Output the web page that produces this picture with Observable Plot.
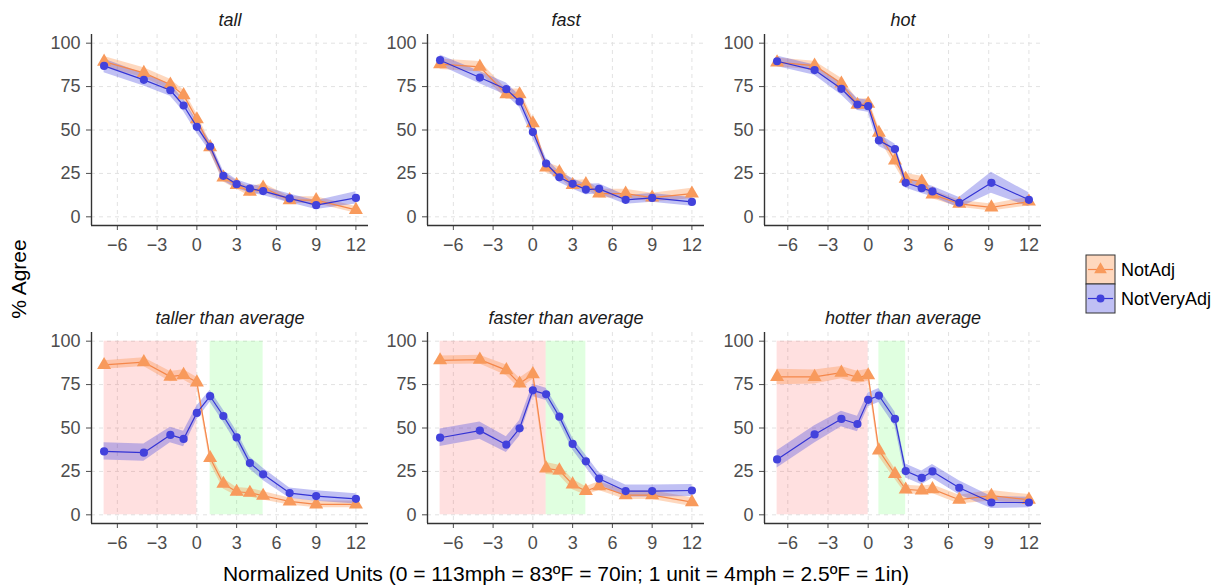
<!DOCTYPE html>
<html><head><meta charset="utf-8">
<script src="https://cdn.jsdelivr.net/npm/d3@7"></script>
<script src="https://cdn.jsdelivr.net/npm/@observablehq/plot@0.6"></script>
<style>
body{margin:0;background:#fff;font-family:"Liberation Sans",Arial,sans-serif;}
#root{position:relative;width:1222px;height:588px;overflow:hidden;background:#fff;}
.panel{position:absolute;}
.lab{position:absolute;color:#000;white-space:nowrap;}
</style></head><body><div id="root"></div>
<script>
// ---------- data ----------
const panelTitles = ["tall", "fast", "hot", "taller than average", "faster than average", "hotter than average"];
const seriesNames = ["NotAdj", "NotVeryAdj"];
const xStd = [-7, -4, -2, -1, 0, 1, 2, 3, 4, 5, 7, 9, 12];
const xHot = [-6.8, -4, -2, -0.8, 0, 0.8, 2, 2.8, 4, 4.8, 6.8, 9.2, 12];
const xTicks = [-6, -3, 0, 3, 6, 9, 12];
const xTickLabels = ["\u22126", "\u22123", "0", "3", "6", "9", "12"];
const yTicks = [0, 25, 50, 75, 100];
const yTickLabels = ["0", "25", "50", "75", "100"];

// tall
const tallNotAdj       = [89.4, 82.9, 76.2, 70.1, 56.2, 40.1, 22.6, 18.4, 14.4, 16.9, 9.6, 9.6, 4.0];
const tallNotAdjSE     = [3.0, 3.0, 3.0, 3.0, 3.0, 3.0, 2.5, 2.5, 2.5, 2.5, 2.0, 2.0, 2.0];
const tallNotVeryAdj   = [86.9, 78.9, 72.9, 64.1, 51.8, 40.5, 23.6, 18.8, 16.3, 14.8, 10.6, 6.7, 10.9];
const tallNotVeryAdjSE = [4.0, 3.5, 3.5, 3.5, 3.5, 3.0, 3.0, 2.5, 2.5, 2.5, 2.5, 2.5, 3.5];
// fast
const fastNotAdj       = [87.9, 86.4, 70.6, 70.6, 53.9, 28.4, 25.7, 18.4, 18.8, 13.4, 13.4, 11.1, 13.4];
const fastNotAdjSE     = [3.0, 3.0, 3.0, 3.0, 3.0, 3.0, 3.0, 2.5, 2.5, 2.5, 2.5, 2.5, 3.0];
const fastNotVeryAdj   = [90.2, 80.2, 73.5, 66.4, 48.8, 30.7, 22.8, 19.0, 15.7, 16.1, 9.8, 10.9, 8.6];
const fastNotVeryAdjSE = [3.0, 3.5, 3.5, 3.5, 3.5, 3.0, 3.0, 3.0, 3.0, 3.0, 2.5, 2.5, 2.5];
// hot
const hotNotAdj        = [88.9, 87.1, 76.8, 64.5, 65.1, 48.4, 32.4, 21.9, 20.3, 12.9, 7.5, 5.4, 8.8];
const hotNotAdjSE      = [2.5, 2.5, 3.0, 3.0, 3.0, 3.0, 3.0, 3.0, 3.0, 2.5, 2.0, 2.0, 2.5];
const hotNotVeryAdj    = [89.6, 84.5, 73.7, 64.7, 63.7, 44.0, 39.0, 19.6, 16.5, 14.6, 8.1, 19.6, 9.8];
const hotNotVeryAdjSE  = [3.0, 3.0, 3.5, 3.5, 3.5, 3.5, 3.0, 3.0, 3.0, 3.0, 3.0, 6.0, 4.0];
// taller than average
const tallerNotAdj       = [86.3, 87.9, 79.6, 80.6, 76.3, 32.7, 17.9, 13.3, 12.7, 11.0, 7.7, 6.0, 6.0];
const tallerNotAdjSE     = [2.5, 2.5, 3.0, 3.0, 3.0, 3.0, 3.0, 2.5, 2.5, 2.5, 2.0, 2.0, 2.0];
const tallerNotVeryAdj   = [36.5, 35.8, 46.0, 43.7, 58.7, 68.3, 56.9, 44.6, 29.8, 23.3, 12.5, 10.8, 9.2];
const tallerNotVeryAdjSE = [5.0, 5.0, 4.5, 4.5, 4.0, 3.5, 3.5, 3.5, 3.5, 3.5, 3.0, 3.0, 3.0];
// faster than average
const fasterNotAdj       = [89.0, 89.4, 83.3, 75.6, 81.0, 26.7, 25.6, 17.5, 13.7, 16.5, 11.3, 11.3, 7.3];
const fasterNotAdjSE     = [2.5, 2.5, 3.0, 3.0, 3.0, 3.5, 3.0, 3.0, 2.5, 2.5, 2.5, 2.5, 2.5];
const fasterNotVeryAdj   = [44.4, 48.5, 40.4, 49.8, 71.7, 69.4, 56.5, 40.8, 30.8, 20.8, 13.7, 13.7, 14.0];
const fasterNotVeryAdjSE = [5.0, 5.0, 4.5, 4.5, 3.5, 3.5, 3.5, 3.5, 3.5, 3.5, 3.5, 3.5, 3.5];
// hotter than average
const hotterNotAdj       = [79.4, 79.4, 81.9, 79.2, 80.4, 37.1, 23.5, 14.6, 14.0, 14.8, 8.7, 11.0, 8.7];
const hotterNotAdjSE     = [4.5, 4.0, 3.5, 3.5, 3.5, 3.5, 3.0, 2.5, 2.5, 2.5, 2.5, 3.0, 3.0];
const hotterNotVeryAdj   = [31.9, 46.3, 55.2, 52.3, 66.2, 68.7, 55.2, 25.2, 21.3, 25.0, 15.6, 7.1, 7.1];
const hotterNotVeryAdjSE = [5.0, 5.0, 4.5, 4.5, 4.0, 4.0, 4.0, 4.0, 4.0, 4.0, 4.0, 3.5, 3.0];

// shaded regions for bottom row (x ranges)
const pinkRegions  = [null, null, null, [-7, 0], [-7, 1], [-6.8, 0]];
const greenRegions = [null, null, null, [1, 5], [1, 4], [0.8, 2.8]];

const xAxisTitle = "Normalized Units (0 = 113mph = 83\u00baF = 70in; 1 unit = 4mph = 2.5\u00baF = 1in)";
const yAxisTitle = "% Agree";

// ---------- drawing ----------
const orangeLine = "#f5874a", orangePt = "#f89a5c", orangeFill = "#fb8f45";
const blueLine = "#3434d4", bluePt = "#4242dc", blueFill = "#4a4ae0";

const panels = [
  [xStd, tallNotAdj, tallNotAdjSE, tallNotVeryAdj, tallNotVeryAdjSE],
  [xStd, fastNotAdj, fastNotAdjSE, fastNotVeryAdj, fastNotVeryAdjSE],
  [xHot, hotNotAdj, hotNotAdjSE, hotNotVeryAdj, hotNotVeryAdjSE],
  [xStd, tallerNotAdj, tallerNotAdjSE, tallerNotVeryAdj, tallerNotVeryAdjSE],
  [xStd, fasterNotAdj, fasterNotAdjSE, fasterNotVeryAdj, fasterNotVeryAdjSE],
  [xHot, hotterNotAdj, hotterNotAdjSE, hotterNotVeryAdj, hotterNotVeryAdjSE]
];

const root = document.getElementById("root");
const frameLefts = [91.4, 427.4, 763.7];
const frameTops = [33.6, 332.3];
const frameW = 277, frameH = 191;
const mL = 55, mR = 10, mT = 32, mB = 40;

function rowsOf(x, v, se) {
  return x.map((xx, i) => ({x: xx, y: v[i], lo: v[i] - se[i], hi: v[i] + se[i]}));
}
const fmtX = d => xTickLabels[xTicks.indexOf(d)];
const fmtY = d => yTickLabels[yTicks.indexOf(d)];

panels.forEach((p, i) => {
  const [xs, na, naSE, nva, nvaSE] = p;
  const ext = d3.extent(xs);
  const pad = (ext[1] - ext[0]) * 0.05;
  const dom = [ext[0] - pad, ext[1] + pad];
  const naRows = rowsOf(xs, na, naSE);
  const nvaRows = rowsOf(xs, nva, nvaSE);
  const marks = [
    Plot.ruleX(xTicks, {stroke: "#e2e2e2", strokeDasharray: "4,4", strokeWidth: 1}),
    Plot.ruleY(yTicks, {stroke: "#e2e2e2", strokeDasharray: "4,4", strokeWidth: 1})
  ];
  if (pinkRegions[i]) marks.push(Plot.rect([pinkRegions[i]], {x1: d => d[0], x2: d => d[1], y1: d => 0, y2: d => 100, fill: "#ff0000", fillOpacity: 0.12}));
  if (greenRegions[i]) marks.push(Plot.rect([greenRegions[i]], {x1: d => d[0], x2: d => d[1], y1: d => 0, y2: d => 100, fill: "#00ff00", fillOpacity: 0.12}));
  marks.push(
    Plot.areaY(naRows, {x: "x", y1: "lo", y2: "hi", fill: orangeFill, fillOpacity: 0.35}),
    Plot.areaY(nvaRows, {x: "x", y1: "lo", y2: "hi", fill: blueFill, fillOpacity: 0.35}),
    Plot.line(naRows, {x: "x", y: "y", stroke: orangeLine, strokeWidth: 1.2}),
    Plot.dot(naRows, {x: "x", y: "y", symbol: "triangle", r: 5.2, fill: orangePt}),
    Plot.line(nvaRows, {x: "x", y: "y", stroke: blueLine, strokeWidth: 1.2}),
    Plot.dot(nvaRows, {x: "x", y: "y", r: 4.1, fill: bluePt}),
    Plot.ruleX([dom[0]], {stroke: "#333", strokeWidth: 1.4}),
    Plot.ruleY([-5], {stroke: "#333", strokeWidth: 1.4}),
    Plot.text([panelTitles[i]], {text: d => d, frameAnchor: "top", dy: -21, fontSize: 18, fontStyle: "italic", fill: "#1a1a1a"})
  );
  const chart = Plot.plot({
    width: mL + frameW + mR,
    height: mT + frameH + mB,
    marginLeft: mL, marginRight: mR, marginTop: mT, marginBottom: mB,
    style: {fontSize: "18px", fontFamily: "Liberation Sans, Arial, sans-serif", color: "#4d4d4d", background: "transparent", overflow: "visible"},
    x: {domain: dom, ticks: xTicks, tickFormat: fmtX, tickSize: 5, tickPadding: 8, label: null},
    y: {domain: [-5, 105], ticks: yTicks, tickFormat: fmtY, tickSize: 5, tickPadding: 6, label: null},
    marks
  });
  const div = document.createElement("div");
  div.className = "panel";
  div.style.left = (frameLefts[i % 3] - mL) + "px";
  div.style.top = (frameTops[Math.floor(i / 3)] - mT) + "px";
  div.appendChild(chart);
  root.appendChild(div);
});

// axis titles
const xt = document.createElement("div");
xt.className = "lab";
xt.textContent = xAxisTitle;
xt.style.fontSize = "21px";
xt.style.left = "566px"; xt.style.top = "574px";
xt.style.transform = "translate(-50%,-50%)";
root.appendChild(xt);

const yt = document.createElement("div");
yt.className = "lab";
yt.textContent = yAxisTitle;
yt.style.fontSize = "21px";
yt.style.left = "18.5px"; yt.style.top = "279px";
yt.style.transform = "translate(-50%,-50%) rotate(-90deg)";
root.appendChild(yt);

// legend
const legDiv = document.createElement("div");
legDiv.className = "panel";
legDiv.style.left = "1080px"; legDiv.style.top = "250px";
root.appendChild(legDiv);
const leg = d3.select(legDiv).append("svg").attr("width", 142).attr("height", 70)
  .style("font-family", "Liberation Sans, Arial, sans-serif");
const legItems = [
  {name: seriesNames[0], fill: orangeFill, line: orangeLine, pt: orangePt, sym: d3.symbolTriangle, size: 70},
  {name: seriesNames[1], fill: blueFill, line: blueLine, pt: bluePt, sym: d3.symbolCircle, size: 50}
];
legItems.forEach((it, k) => {
  const y0 = 5 + k * 29;
  const g = leg.append("g");
  g.append("rect").attr("x", 6).attr("y", y0).attr("width", 29).attr("height", 29)
    .attr("fill", "#fff");
  g.append("rect").attr("x", 6).attr("y", y0).attr("width", 29).attr("height", 29)
    .attr("fill", it.fill).attr("fill-opacity", 0.35).attr("stroke", "#333").attr("stroke-width", 1);
  g.append("line").attr("x1", 8).attr("x2", 33).attr("y1", y0 + 14.5).attr("y2", y0 + 14.5)
    .attr("stroke", it.line).attr("stroke-width", 1.2);
  g.append("path").attr("d", d3.symbol(it.sym, it.size)()).attr("transform", `translate(20.5,${y0 + 14.5})`)
    .attr("fill", it.pt);
  g.append("text").attr("x", 41).attr("y", y0 + 14.5).attr("dy", "0.35em")
    .attr("font-size", 18).attr("fill", "#000").text(it.name);
});
</script>
</body></html>
